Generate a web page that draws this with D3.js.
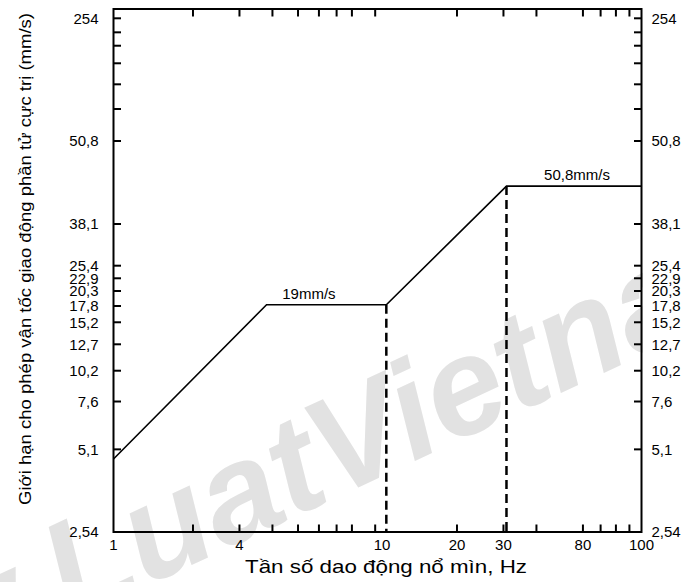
<!DOCTYPE html>
<html>
<head>
<meta charset="utf-8">
<script src="https://cdn.jsdelivr.net/npm/d3@7"></script>
<style>
  body { margin: 0; background: #fff; }
  svg text { font-family: "Liberation Sans", Arial, sans-serif; }
</style>
</head>
<body>
<div id="chart"></div>
<script>
// data
var lineFreq = [1, 3.8, 10.8, 30.8, 100];
var lineVel = [4.8, 18, 18, 43.9, 43.9];
var dashFreq = [10.8, 30.8];
var dashVel = [18, 43.9];
var yTickValues = [2.54, 5.1, 7.6, 10.2, 12.7, 15.2, 17.8, 20.3, 22.9, 25.4, 38.1, 50.8, 254];
var yTickLabels = ["2,54", "5,1", "7,6", "10,2", "12,7", "15,2", "17,8", "20,3", "22,9", "25,4", "38,1", "50,8", "254"];
var xMinorTicks = [2, 3, 4, 5, 6, 7, 8, 9.8, 20, 30, 40, 60, 70, 80, 90];
var xLabelValues = [1, 3, 10.4, 20, 30, 60, 100];
var xLabelTexts = ["1", "4", "10", "20", "30", "80", "100"];
var plateauLabels = [
    {text: "19mm/s", freq: 5.5, vel: 18},
    {text: "50,8mm/s", freq: 57, vel: 43.9}
];

// the printed y axis is not evenly spaced: height of each label as a share of the plot
var yTickFrac = [0, 0.158, 0.2495, 0.3084, 0.3589, 0.401, 0.4321, 0.4608, 0.4851, 0.5092, 0.5889, 0.7476, 0.9822];
var yMinorFrac = [0.8088, 0.856, 0.8962, 0.9298, 0.9554];

var width = 684, height = 582;
var margin = {top: 9, left: 113.5};
var plotW = 528, plotH = 523;

var svg = d3.select("#chart").append("svg")
    .attr("width", width)
    .attr("height", height);

// watermark in the background, cut at the right frame
svg.append("clipPath")
    .attr("id", "wm-clip")
    .append("rect")
    .attr("width", 643)
    .attr("height", height);

svg.append("g")
    .attr("clip-path", "url(#wm-clip)")
  .append("text")
    .text("www.LuatVietnam")
    .attr("transform", "translate(-252, 772) rotate(-25)")
    .style("font-size", "138px")
    .style("font-weight", "bold")
    .style("font-style", "italic")
    .style("fill", "#e2e2e2");

var g = svg.append("g")
    .attr("transform", `translate(${margin.left}, ${margin.top})`);

var x = d3.scaleLog()
    .domain([1, 100])
    .range([0, plotW]);

var yFrac = d3.scaleLinear()
    .domain([0, 1])
    .range([plotH, 0]);

var y = d3.scaleLinear()
    .domain(yTickValues)
    .range(yTickFrac.map(yFrac));

// frame
g.append("rect")
    .attr("width", plotW)
    .attr("height", plotH)
    .style("fill", "none")
    .style("stroke", "#000")
    .style("stroke-width", 2);

var tickLen = 7.5;

// x ticks, bottom and top, pointing inward
var xTicks = g.append("g").attr("class", "x-ticks");
xMinorTicks.forEach(function(v) {
    xTicks.append("line")
        .attr("x1", x(v)).attr("x2", x(v))
        .attr("y1", plotH).attr("y2", plotH - tickLen);
    xTicks.append("line")
        .attr("x1", x(v)).attr("x2", x(v))
        .attr("y1", 0).attr("y2", tickLen);
});
xTicks.selectAll("line")
    .style("stroke", "#000")
    .style("stroke-width", 2);

xLabelValues.forEach(function(v, i) {
    g.append("text")
        .text(xLabelTexts[i])
        .attr("x", x(v))
        .attr("y", plotH + 18)
        .style("text-anchor", "middle")
        .style("font-size", "15px");
});

// y ticks, left and right
var yTicks = g.append("g").attr("class", "y-ticks");
var yTickPos = yTickValues.slice(1).map(function(v) { return y(v); })
    .concat(yMinorFrac.map(function(f) { return yFrac(f); }));
yTickPos.forEach(function(py) {
    yTicks.append("line")
        .attr("x1", 0).attr("x2", tickLen)
        .attr("y1", py).attr("y2", py);
    yTicks.append("line")
        .attr("x1", plotW).attr("x2", plotW - tickLen)
        .attr("y1", py).attr("y2", py);
});
yTicks.selectAll("line")
    .style("stroke", "#000")
    .style("stroke-width", 2);

yTickValues.forEach(function(v, i) {
    g.append("text")
        .text(yTickLabels[i])
        .attr("x", -15)
        .attr("y", y(v))
        .attr("dy", "0.35em")
        .style("text-anchor", "end")
        .style("font-size", "15px");
    g.append("text")
        .text(yTickLabels[i])
        .attr("x", plotW + 10)
        .attr("y", y(v))
        .attr("dy", "0.35em")
        .style("text-anchor", "start")
        .style("font-size", "15px");
});

// limit line
var line = d3.line()
    .x(function(d) { return x(d[0]); })
    .y(function(d) { return y(d[1]); });

g.append("path")
    .datum(d3.zip(lineFreq, lineVel))
    .attr("d", line)
    .style("fill", "none")
    .style("stroke", "#000")
    .style("stroke-width", 1.6);

dashFreq.forEach(function(f, i) {
    g.append("line")
        .attr("x1", x(f)).attr("x2", x(f))
        .attr("y1", y(dashVel[i])).attr("y2", plotH)
        .style("stroke", "#000")
        .style("stroke-width", 2.5)
        .style("stroke-dasharray", "9,5");
});

plateauLabels.forEach(function(d) {
    g.append("text")
        .text(d.text)
        .attr("x", x(d.freq))
        .attr("y", y(d.vel) - 6)
        .style("text-anchor", "middle")
        .style("font-size", "15px");
});

// axis titles
svg.append("text")
    .text("Tần số dao động nổ mìn, Hz")
    .attr("x", 386)
    .attr("y", 573)
    .attr("textLength", 282)
    .attr("lengthAdjust", "spacingAndGlyphs")
    .style("text-anchor", "middle")
    .style("font-size", "19px");

svg.append("text")
    .text("Giới hạn cho phép vận tốc giao động phần tử cực trị (mm/s)")
    .attr("transform", "translate(31, 259) rotate(-90)")
    .attr("textLength", 492)
    .attr("lengthAdjust", "spacingAndGlyphs")
    .style("text-anchor", "middle")
    .style("font-size", "17px");
</script>
</body>
</html>
